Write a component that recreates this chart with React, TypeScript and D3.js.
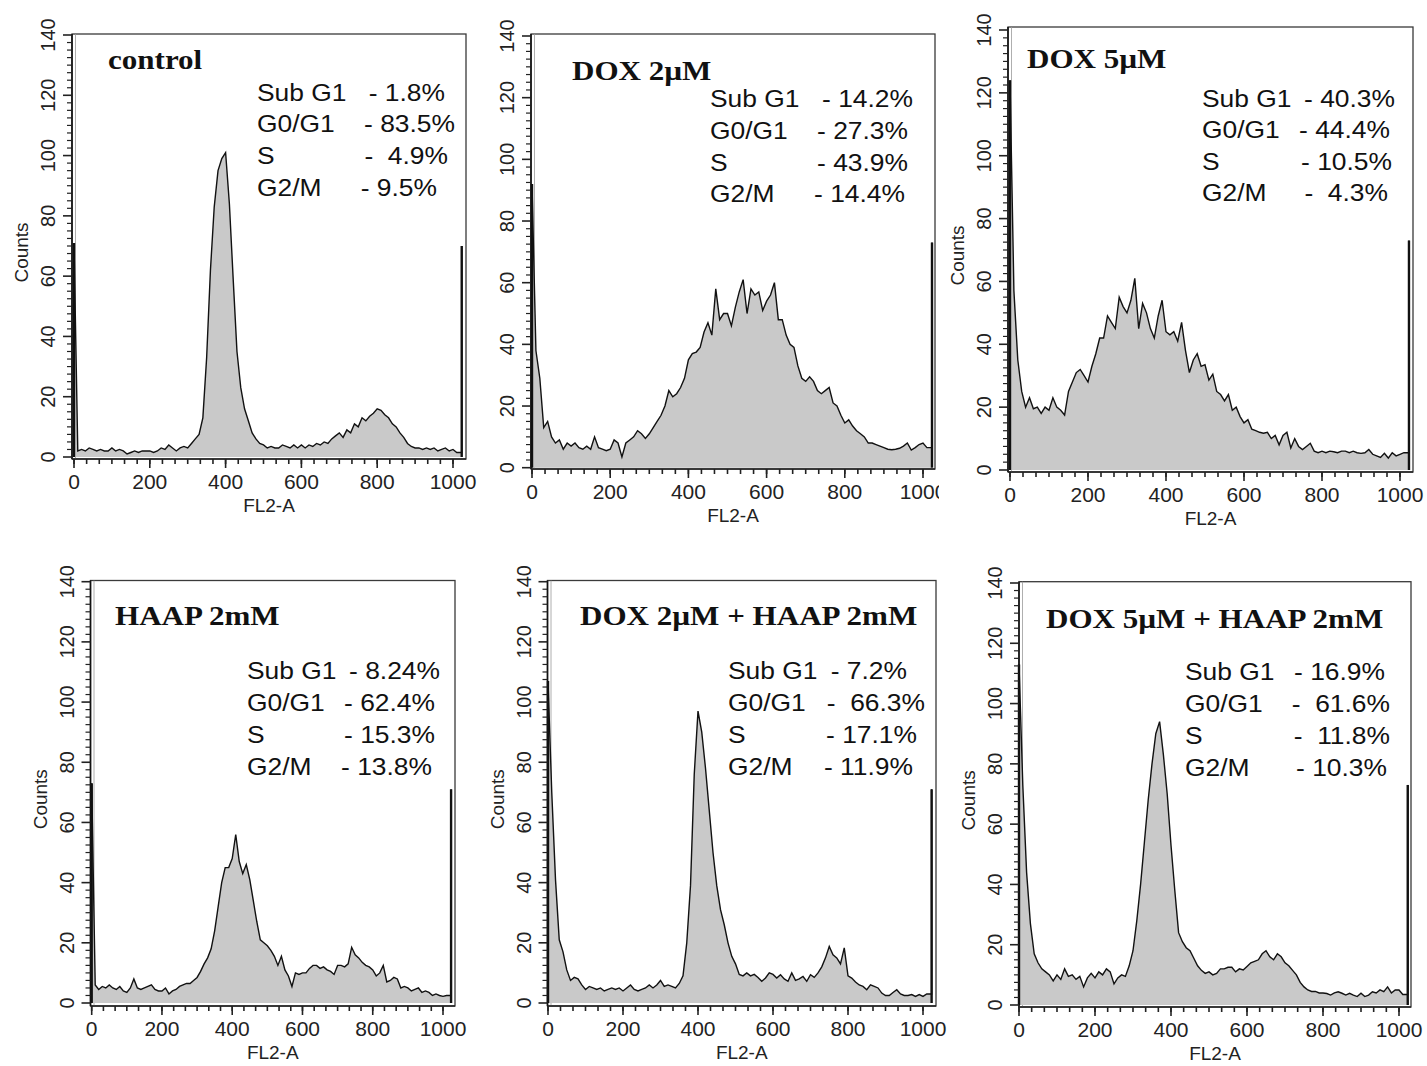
import React from "react";
import * as d3 from "d3";

// ---------- data ----------
const channels = d3.range(10, 1011, 10); // FL2-A channel of each reading (101 values)
const xTickValues = [0, 200, 400, 600, 800, 1000];
const yTickValues = [0, 20, 40, 60, 80, 100, 120, 140];
const statLabels = ["Sub G1", "G0/G1", "S", "G2/M"];

const titles = [
  "control",
  "DOX 2\u00b5M",
  "DOX 5\u00b5M",
  "HAAP 2mM",
  "DOX 2\u00b5M + HAAP 2mM",
  "DOX 5\u00b5M + HAAP 2mM",
];

const statValues = [
  ["- 1.8%", "- 83.5%", "-  4.9%", "- 9.5%"],
  ["- 14.2%", "- 27.3%", "- 43.9%", "- 14.4%"],
  ["- 40.3%", "- 44.4%", "- 10.5%", "-  4.3%"],
  ["- 8.24%", "- 62.4%", "- 15.3%", "- 13.8%"],
  ["- 7.2%", "-  66.3%", "- 17.1%", "- 11.9%"],
  ["- 16.9%", "-  61.6%", "-  11.8%", "- 10.3%"],
];

// off-scale pile-up in first / last channel
const leftEdgeCounts = [71, 92, 124, 73, 107, 113];
const rightEdgeCounts = [70, 73, 73, 71, 71, 73];

const countsControl = [
  2, 2.5, 2, 3, 2.5, 2, 2.5, 2, 2, 3,
  2, 2.5, 2, 1, 1.5, 2, 1.5, 2, 2, 2,
  1.5, 2, 3, 2.5, 4, 3, 2, 3, 3.5, 3,
  4.5, 6, 7.5, 13, 33, 62, 83, 95, 99, 101,
  84, 59, 35, 23, 16, 12, 8, 6, 4.5, 4,
  3, 3.5, 3, 3, 4, 3.5, 3, 4, 3, 4,
  3, 4, 3.5, 4.5, 4, 5, 4.5, 6, 7, 8,
  6.5, 9, 8, 11, 10, 13, 12, 13.5, 14.5, 16,
  15.5, 14, 13, 11, 10, 8, 6.5, 4.5, 3.5, 3,
  3, 2.5, 3, 2.5, 3, 2, 2.5, 3, 2, 2.5,
  1.5,
];

const countsDox2 = [
  38, 29, 13, 15, 10, 8, 9, 6, 8, 7,
  8, 6.5, 6, 7, 6, 10, 6.5, 6, 5.5, 6,
  9, 8, 3.5, 8, 9, 10, 12, 11, 9.5, 11,
  13, 15, 17, 20, 25, 23, 24, 26, 29, 35,
  37, 37.5, 39, 44, 47, 43, 58, 48, 50, 50,
  46, 52, 57, 61, 50, 58, 56, 57, 51, 54,
  56, 60, 48, 48, 43, 40, 39, 33, 29, 28,
  29.5, 28, 25, 24, 25, 26, 21, 20, 17, 14.5,
  15.5, 13.5, 12, 11, 10, 8, 8, 7.5, 7, 6.5,
  6, 5.8, 6, 6.3, 7, 8, 5.7, 6.5, 7.5, 8,
  6.5,
];

const countsDox5 = [
  57, 35, 25, 20, 23, 19.5, 20, 18, 20, 19,
  23, 20, 19, 17.5, 25, 28, 31, 32, 30, 28,
  33, 37, 42, 42, 49, 47, 45, 55, 52, 50,
  54, 61, 45, 53, 50, 45, 42, 49, 54, 44,
  43, 44, 41, 47, 38, 31, 35, 37, 33, 33.5,
  28.6, 30.5, 25, 24, 22, 24, 19, 20, 17, 15,
  16, 13, 12.5, 12, 11.7, 12, 10, 11, 8, 11,
  12, 7, 10, 7.5, 6.5, 7.5, 8.5, 6, 5.5, 6,
  5.5, 6, 5.8, 5.5, 6, 6, 5.5, 6, 5.5, 5.3,
  5.5, 6.5, 5, 4.5, 4, 5.3, 3.8, 5.5, 4.5, 5,
  5.5,
];

const countsHaap = [
  6, 4.5, 5.5, 5, 6, 5, 4.5, 5.5, 4, 3.5,
  5, 8, 5, 4.5, 5, 5.5, 6, 4.5, 4, 4,
  5, 3, 4, 4.5, 5.5, 6, 6.5, 6.5, 7.5, 8.5,
  10.5, 13, 15, 18, 24, 32, 40, 45, 45, 48,
  56, 47, 43, 46, 41, 34, 27, 21, 20, 19,
  17.5, 15.5, 12.5, 15.5, 11, 9, 5.5, 10, 9.5, 10,
  10, 11.5, 12.5, 12.5, 11.5, 12, 11, 10.5, 9.5, 12.5,
  12.5, 12, 13, 18.5, 16, 15, 13.5, 12.5, 12, 11,
  9, 10, 12.5, 7, 7.5, 8.5, 8, 5, 5.5, 5,
  4, 4.5, 5, 3.5, 4, 3.5, 2.5, 3, 2.5, 2.2,
  2.5,
];

const countsDox2Haap = [
  70, 41, 21, 17, 11, 7.5, 8.5, 8, 6, 4.5,
  5.5, 5, 4.5, 5, 4, 4.5, 5, 4.5, 5, 4,
  5, 6, 4.5, 4, 4.5, 5, 6, 5, 6, 7.5,
  5.5, 6, 5.5, 5, 6.5, 9, 20, 39, 76, 97,
  90, 78, 64, 50, 39, 31, 26, 20, 15.5, 13,
  9.5, 9, 10, 9, 9.5, 8.5, 7.2, 8.3, 10, 9.5,
  8.3, 9.4, 8, 7.2, 10, 7.5, 8, 8.8, 7.2, 9.4,
  8.5, 10, 12, 15, 18.8, 16, 15, 13, 18.3, 9,
  8.3, 7, 6, 5.5, 4.4, 6, 5.5, 5, 3.3, 2.5,
  2.5, 3.5, 4.4, 3, 2.5, 2.5, 2.8, 2.2, 2.8, 2.2,
  3,
];

const countsDox5Haap = [
  73, 44, 27, 17, 14, 12, 11, 10, 8, 10,
  8.5, 12, 9.5, 10, 8.5, 9.5, 6, 9, 10.5, 9,
  11, 10, 12, 11, 7, 9, 10, 9.5, 13, 18,
  28, 40, 54, 68, 80, 90, 94, 83, 70, 53,
  38, 24, 21, 19, 18, 15.5, 13, 11.5, 10.5, 11,
  10, 10.5, 12, 12, 12.5, 12.5, 11, 12, 11.6, 12.8,
  14, 14.5, 15, 17, 18, 16, 15, 17, 16, 14,
  13, 11.5, 10, 7.5, 6, 5, 4.5, 4.5, 4, 4,
  3.8, 3.3, 4, 4.4, 3.9, 3.3, 3.9, 3.3, 2.8, 3.9,
  2.8, 3.3, 4.4, 4, 5, 4.4, 6, 4, 5, 5,
  3.5,
];

const seriesList = [countsControl, countsDox2, countsDox5, countsHaap, countsDox2Haap, countsDox5Haap];

// ---------- layout (pixels) ----------
type Layout = {
  left: number; right: number; top: number; bottom: number;
  x0: number; x1000: number; y0: number; y140: number;
  titleX: number; titleY: number;
  statX: number; statY: number[]; statEnd: number[];
  showCounts: boolean; clipRight?: number;
};

const layouts: Layout[] = [
  { left: 72, right: 466, top: 34, bottom: 459, x0: 74, x1000: 453, y0: 457, y140: 35,
    titleX: 108, titleY: 69, statX: 257, statY: [100.5, 132, 164, 196], statEnd: [445, 455, 448, 437], showCounts: true },
  { left: 531, right: 935, top: 34, bottom: 469, x0: 532, x1000: 923, y0: 467.7, y140: 36,
    titleX: 572, titleY: 80, statX: 710, statY: [107, 139, 171, 202], statEnd: [913, 908, 908, 905], showCounts: false, clipRight: 939 },
  { left: 1008, right: 1413, top: 27, bottom: 472, x0: 1010, x1000: 1400, y0: 470, y140: 30,
    titleX: 1027, titleY: 68, statX: 1202, statY: [106.5, 138, 170, 201], statEnd: [1395, 1390, 1392, 1388], showCounts: true },
  { left: 90.5, right: 455, top: 580.5, bottom: 1006, x0: 91.7, x1000: 443, y0: 1003, y140: 581.7,
    titleX: 115, titleY: 625, statX: 247, statY: [679, 711, 743, 775], statEnd: [440, 435, 435, 432], showCounts: true },
  { left: 547.5, right: 936, top: 580.5, bottom: 1006, x0: 548, x1000: 923, y0: 1003, y140: 581.7,
    titleX: 580, titleY: 625, statX: 728, statY: [679, 711, 743, 775], statEnd: [907, 925, 917, 913], showCounts: true },
  { left: 1019, right: 1411, top: 581.7, bottom: 1007, x0: 1019, x1000: 1399, y0: 1005, y140: 583,
    titleX: 1046, titleY: 628, statX: 1185, statY: [680, 712, 744, 776], statEnd: [1385, 1390, 1390, 1387], showCounts: true },
];

const SANS = "'Liberation Sans', Arial, sans-serif";
const SERIF = "'Liberation Serif', 'Times New Roman', serif";

function Panel({ idx }: { idx: number }) {
  const L = layouts[idx];
  const x = d3.scaleLinear().domain([0, 1000]).range([L.x0, L.x1000]);
  const y = d3.scaleLinear().domain([0, 140]).range([L.y0, L.y140]);
  const vals = seriesList[idx];
  const lastVal = vals[vals.length - 1];
  const firstCh = 0;
  const lastCh = 1023;

  const outline: [number, number][] = [
    [x(firstCh), y(leftEdgeCounts[idx])],
    ...channels.map((c, i) => [x(c), y(vals[i])] as [number, number]),
    [x(lastCh), y(lastVal)],
    [x(lastCh), y(rightEdgeCounts[idx])],
  ];
  const areaPts: [number, number][] = [[x(firstCh), y(0)], ...outline, [x(lastCh), y(0)]];
  const line = d3.line();
  const areaPath = line(areaPts) + "Z";
  const outlinePath = line(outline) || "";

  const yMinor = d3.range(0, 140.01, 2.5);
  const xMinor = d3.range(0, 1000.01, 200 / 6);

  const clipId = `clip-${idx}`;
  return (
    <g clipPath={L.clipRight ? `url(#${clipId})` : undefined}>
      {L.clipRight ? (
        <defs>
          <clipPath id={clipId}>
            <rect x={L.left - 80} y={0} width={L.clipRight - (L.left - 80)} height={1066} />
          </clipPath>
        </defs>
      ) : null}
      {/* frame */}
      <rect x={L.left} y={L.top} width={L.right - L.left} height={L.bottom - L.top}
        fill="#fff" stroke="#3a3a3a" strokeWidth={1.3} />
      <line x1={L.left + 3.5} x2={L.left + 3.5} y1={L.top} y2={L.bottom} stroke="#9a9a9a" strokeWidth={0.8} />
      {/* histogram */}
      <path d={areaPath} fill="#c9c9c9" stroke="none" />
      <path d={outlinePath} fill="none" stroke="#111" strokeWidth={1.4} strokeLinejoin="miter" />
      <line x1={x(firstCh)} x2={x(firstCh)} y1={y(0)} y2={y(leftEdgeCounts[idx])} stroke="#111" strokeWidth={2.4} />
      <line x1={x(lastCh)} x2={x(lastCh)} y1={y(0)} y2={y(rightEdgeCounts[idx])} stroke="#111" strokeWidth={2.4} />
      {/* axes lines */}
      <line x1={L.left} x2={L.left} y1={L.top} y2={L.bottom} stroke="#111" strokeWidth={1.6} />
      <line x1={L.left} x2={L.right} y1={L.bottom} y2={L.bottom} stroke="#222" strokeWidth={1.4} />
      {/* y ticks */}
      {yMinor.map((v) => {
        const major = Math.abs(v % 20) < 1e-6;
        return (
          <line key={`ym${v}`} x1={L.left - (major ? 9 : 5)} x2={L.left} y1={y(v)} y2={y(v)}
            stroke="#222" strokeWidth={major ? 1.6 : 1.2} />
        );
      })}
      {yTickValues.map((v) => (
        <text key={`yl${v}`} transform={`translate(${L.left - 17},${y(v)}) rotate(-90)`}
          textAnchor="middle" fontFamily={SANS} fontSize={20} fill="#222">{v}</text>
      ))}
      {/* x ticks */}
      {xMinor.map((v) => (
        <line key={`xm${v}`} x1={x(v)} x2={x(v)} y1={L.bottom} y2={L.bottom + 5}
          stroke="#222" strokeWidth={1.6} />
      ))}
      {xTickValues.map((v) => (
        <g key={`xl${v}`}>
          <line x1={x(v)} x2={x(v)} y1={L.bottom} y2={L.bottom + 9} stroke="#222" strokeWidth={1.6} />
          <text x={x(v)} y={L.bottom + 30} textAnchor="middle" fontFamily={SANS} fontSize={21} fill="#222">{v}</text>
        </g>
      ))}
      {/* axis titles */}
      <text x={(L.left + L.right) / 2} y={L.bottom + 53} textAnchor="middle" fontFamily={SANS}
        fontSize={19} fill="#222">FL2-A</text>
      {L.showCounts ? (
        <text transform={`translate(${L.left - 44},${(L.top + L.bottom) / 2 + 6}) rotate(-90)`} textAnchor="middle"
          fontFamily={SANS} fontSize={19} fill="#222">Counts</text>
      ) : null}
      {/* title */}
      <text transform={`translate(${L.titleX},${L.titleY}) scale(1.15,1)`} fontFamily={SERIF}
        fontWeight="bold" fontSize={27} fill="#111">{titles[idx]}</text>
      {/* stats */}
      {statLabels.map((lab, i) => (
        <g key={`st${i}`}>
          <text transform={`translate(${L.statX},${L.statY[i]}) scale(1.1,1)`} fontFamily={SANS}
            fontSize={24} fill="#111">{lab}</text>
          <text transform={`translate(${L.statEnd[i]},${L.statY[i]}) scale(1.1,1)`} textAnchor="end"
            fontFamily={SANS} fontSize={24} fill="#111" style={{ whiteSpace: "pre" }}>{statValues[idx][i]}</text>
        </g>
      ))}
    </g>
  );
}

export default function App() {
  return (
    <svg width={1427} height={1066} viewBox="0 0 1427 1066"
      style={{ position: "absolute", left: 0, top: 0, background: "#fff" }}>
      <rect x={0} y={0} width={1427} height={1066} fill="#fff" />
      {layouts.map((_, i) => (
        <Panel key={i} idx={i} />
      ))}
    </svg>
  );
}
